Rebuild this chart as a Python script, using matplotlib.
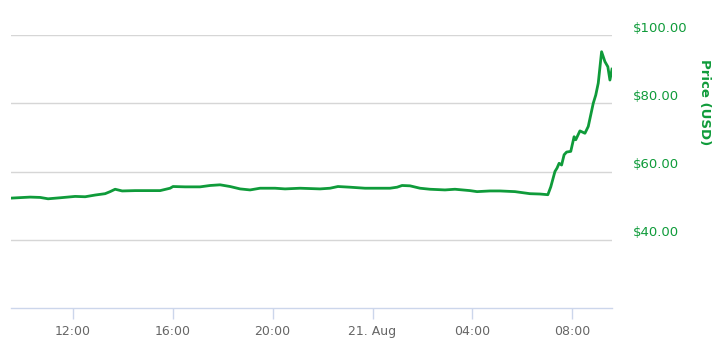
import numpy as np
import pandas as pd
import matplotlib
matplotlib.use('Agg')
import matplotlib.pyplot as plt

# price readings (USD), 20-21 Aug
times = [
    '2017-08-20 09:32', '2017-08-20 10:18', '2017-08-20 10:42', '2017-08-20 11:01',
    '2017-08-20 11:30', '2017-08-20 12:06', '2017-08-20 12:30', '2017-08-20 12:54',
    '2017-08-20 13:18', '2017-08-20 13:30', '2017-08-20 13:42', '2017-08-20 13:59',
    '2017-08-20 14:30', '2017-08-20 14:54', '2017-08-20 15:30', '2017-08-20 15:54',
    '2017-08-20 16:01', '2017-08-20 16:30', '2017-08-20 17:06', '2017-08-20 17:30',
    '2017-08-20 17:54', '2017-08-20 18:18', '2017-08-20 18:42', '2017-08-20 19:06',
    '2017-08-20 19:30', '2017-08-20 20:06', '2017-08-20 20:30', '2017-08-20 21:06',
    '2017-08-20 21:54', '2017-08-20 22:18', '2017-08-20 22:37', '2017-08-20 23:06',
    '2017-08-20 23:42', '2017-08-21 00:06', '2017-08-21 00:42', '2017-08-21 00:59',
    '2017-08-21 01:11', '2017-08-21 01:30', '2017-08-21 01:54', '2017-08-21 02:18',
    '2017-08-21 02:54', '2017-08-21 03:18', '2017-08-21 03:54', '2017-08-21 04:11',
    '2017-08-21 04:42', '2017-08-21 05:06', '2017-08-21 05:42', '2017-08-21 06:18',
    '2017-08-21 06:42', '2017-08-21 07:01', '2017-08-21 07:08', '2017-08-21 07:18',
    '2017-08-21 07:23', '2017-08-21 07:28', '2017-08-21 07:34', '2017-08-21 07:40',
    '2017-08-21 07:46', '2017-08-21 07:56', '2017-08-21 08:04', '2017-08-21 08:08',
    '2017-08-21 08:18', '2017-08-21 08:30', '2017-08-21 08:38', '2017-08-21 08:50',
    '2017-08-21 08:56', '2017-08-21 09:02', '2017-08-21 09:10', '2017-08-21 09:18',
    '2017-08-21 09:25', '2017-08-21 09:30', '2017-08-21 09:35',
]
prices = [
    52.2, 52.5, 52.4, 52.0,
    52.3, 52.7, 52.6, 53.1,
    53.5, 54.1, 54.8, 54.3,
    54.4, 54.4, 54.4, 55.1,
    55.6, 55.5, 55.5, 55.9,
    56.1, 55.6, 54.9, 54.6,
    55.1, 55.1, 54.9, 55.1,
    54.9, 55.1, 55.6, 55.4,
    55.1, 55.1, 55.1, 55.4,
    55.9, 55.8, 55.1, 54.8,
    54.6, 54.8, 54.4, 54.1,
    54.3, 54.3, 54.1, 53.5,
    53.4, 53.2, 55.5, 60.0,
    61.0, 62.4, 61.9, 64.9,
    65.7, 65.9, 70.2, 69.3,
    71.9, 71.2, 73.2, 80.0,
    82.4, 85.9, 95.1, 92.2,
    90.7, 86.8, 90.0,
]

x_ticks = ['2017-08-20 12:00', '2017-08-20 16:00', '2017-08-20 20:00',
           '2017-08-21 00:00', '2017-08-21 04:00', '2017-08-21 08:00']
x_tick_labels = ['12:00', '16:00', '20:00', '21. Aug', '04:00', '08:00']
y_ticks = [40, 60, 80, 100]

green = '#0f9b3a'
df = pd.DataFrame({'t': pd.to_datetime(times), 'price': prices})

fig = plt.figure(figsize=(7.28, 3.53), dpi=100)
ax = fig.add_axes([11 / 728, 45 / 353, 601 / 728, 273 / 353])

ax.plot(df['t'], df['price'], color=green, linewidth=2.0, solid_joinstyle='round')

ax.set_xlim(df['t'].iloc[0], df['t'].iloc[-1])
ax.set_ylim(20, 100)

for v in y_ticks:
    ax.axhline(v, color='#d6d6d6', linewidth=1.0, zorder=0)
    ax.annotate('${:.2f}'.format(v), xy=(1, v), xycoords=('axes fraction', 'data'),
                xytext=(15, 5), textcoords='offset points', va='center', ha='left',
                color=green, fontsize=9.5)

ax.set_yticks([])
ax.set_xticks(pd.to_datetime(x_ticks))
ax.set_xticklabels(x_tick_labels, color='#666666', fontsize=9)
ax.tick_params(axis='x', length=8, width=1, color='#ccd6eb', pad=4)

for s in ['top', 'left', 'right']:
    ax.spines[s].set_visible(False)
ax.spines['bottom'].set_color('#ccd6eb')
ax.spines['bottom'].set_linewidth(1)

fig.text(704 / 728, 1 - 102 / 353, 'Price (USD)', rotation=270, color=green,
         fontsize=9.5, fontweight='bold', ha='center', va='center')

fig.savefig('out.png', dpi=100)
plt.close()
